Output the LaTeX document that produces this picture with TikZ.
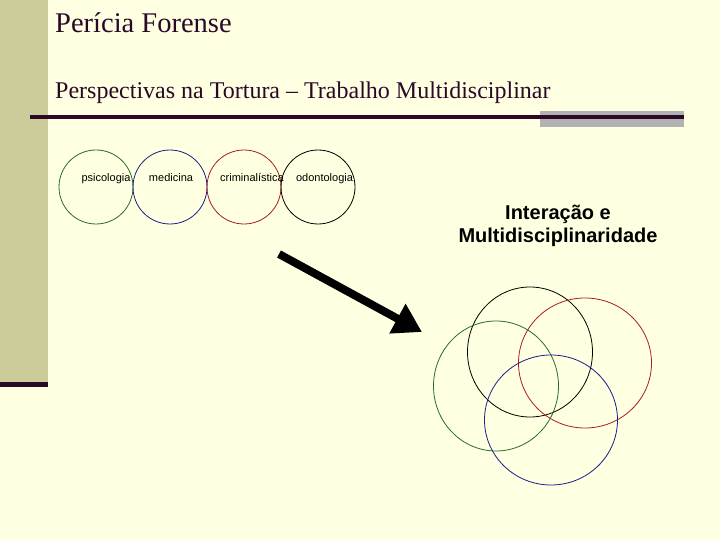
\documentclass[tikz,border=0pt]{standalone}
\usepackage{fontspec}
\setmainfont{Liberation Serif}
\setsansfont{Liberation Sans}
\usepackage{tikz}
\usetikzlibrary{arrows.meta, shapes.geometric, positioning}
\definecolor{slidebg}{RGB}{255,255,226}
\definecolor{sidebar}{RGB}{204,204,155}
\definecolor{plum}{RGB}{44,8,40}
\definecolor{rulegray}{RGB}{178,178,178}
\definecolor{discgreen}{RGB}{40,110,40}
\definecolor{discblue}{RGB}{30,30,140}
\definecolor{discred}{RGB}{170,30,30}

\begin{document}
\begin{tikzpicture}[
  x=1pt, y=-1pt,
  disc/.style={circle, minimum size=74pt, inner sep=0pt, line width=0.8pt},
  blob/.style={ellipse, minimum height=130pt, inner sep=0pt, line width=0.8pt},
  tag/.style={font=\sffamily\fontsize{11}{13}\selectfont, inner sep=0pt, anchor=base},
  heading/.style={anchor=base west, inner sep=0pt, text=plum},
  bigarr/.style={-{Triangle[length=28pt, width=32pt]}, line width=8pt, black}
]
  % slide background
  \fill[slidebg] (0,0) rectangle (720,540);
  \useasboundingbox (0,0) rectangle (720,540);
  \fill[sidebar] (0,0) rectangle (48,382);
  \fill[plum] (0,382) rectangle (48,387);
  \fill[rulegray] (540,111) rectangle (684,127);
  \fill[plum] (30,115) rectangle (684,119);

  \node[heading, font=\fontsize{28.5}{32}\selectfont] (title) at (55,33) {Perícia Forense};
  \node[heading, font=\fontsize{24}{28}\selectfont] (subtitle) at (55,99)
    {Perspectivas na Tortura -- Trabalho Multidisciplinar};

  % disciplinas separadas
  \node[disc, draw=discgreen] (psi) at (96,187) {};
  \node[disc, draw=discblue]  (med) at (170,187) {};
  \node[disc, draw=discred]   (cri) at (244,187) {};
  \node[disc, draw=black]     (odo) at (318,187) {};

  \node[tag] (psiTag) at (106,182) {psicologia};
  \node[tag] (medTag) at (171,182) {medicina};
  \node[tag] (criTag) at (252,182) {criminalística};
  \node[tag] (odoTag) at (324.5,182) {odontologia};

  \node[font=\sffamily\bfseries\fontsize{20}{23.3}\selectfont, align=center, inner sep=0pt]
    (inter) at (558,226) {Interação e\\Multidisciplinaridade};

  % disciplinas sobrepostas
  \node[blob, minimum width=125pt, draw=black]     (odoBlob) at (530,352) {};
  \node[blob, minimum width=133pt, draw=discred]   (criBlob) at (585,363) {};
  \node[blob, minimum width=125pt, draw=discgreen] (psiBlob) at (496,386) {};
  \node[blob, minimum width=133pt, draw=discblue]  (medBlob) at (551,420) {};

  \coordinate (arrFrom) at (279,254);
  \coordinate (arrTo) at (422,332);
  \draw[bigarr] (arrFrom) -- (arrTo);
\end{tikzpicture}
\end{document}
